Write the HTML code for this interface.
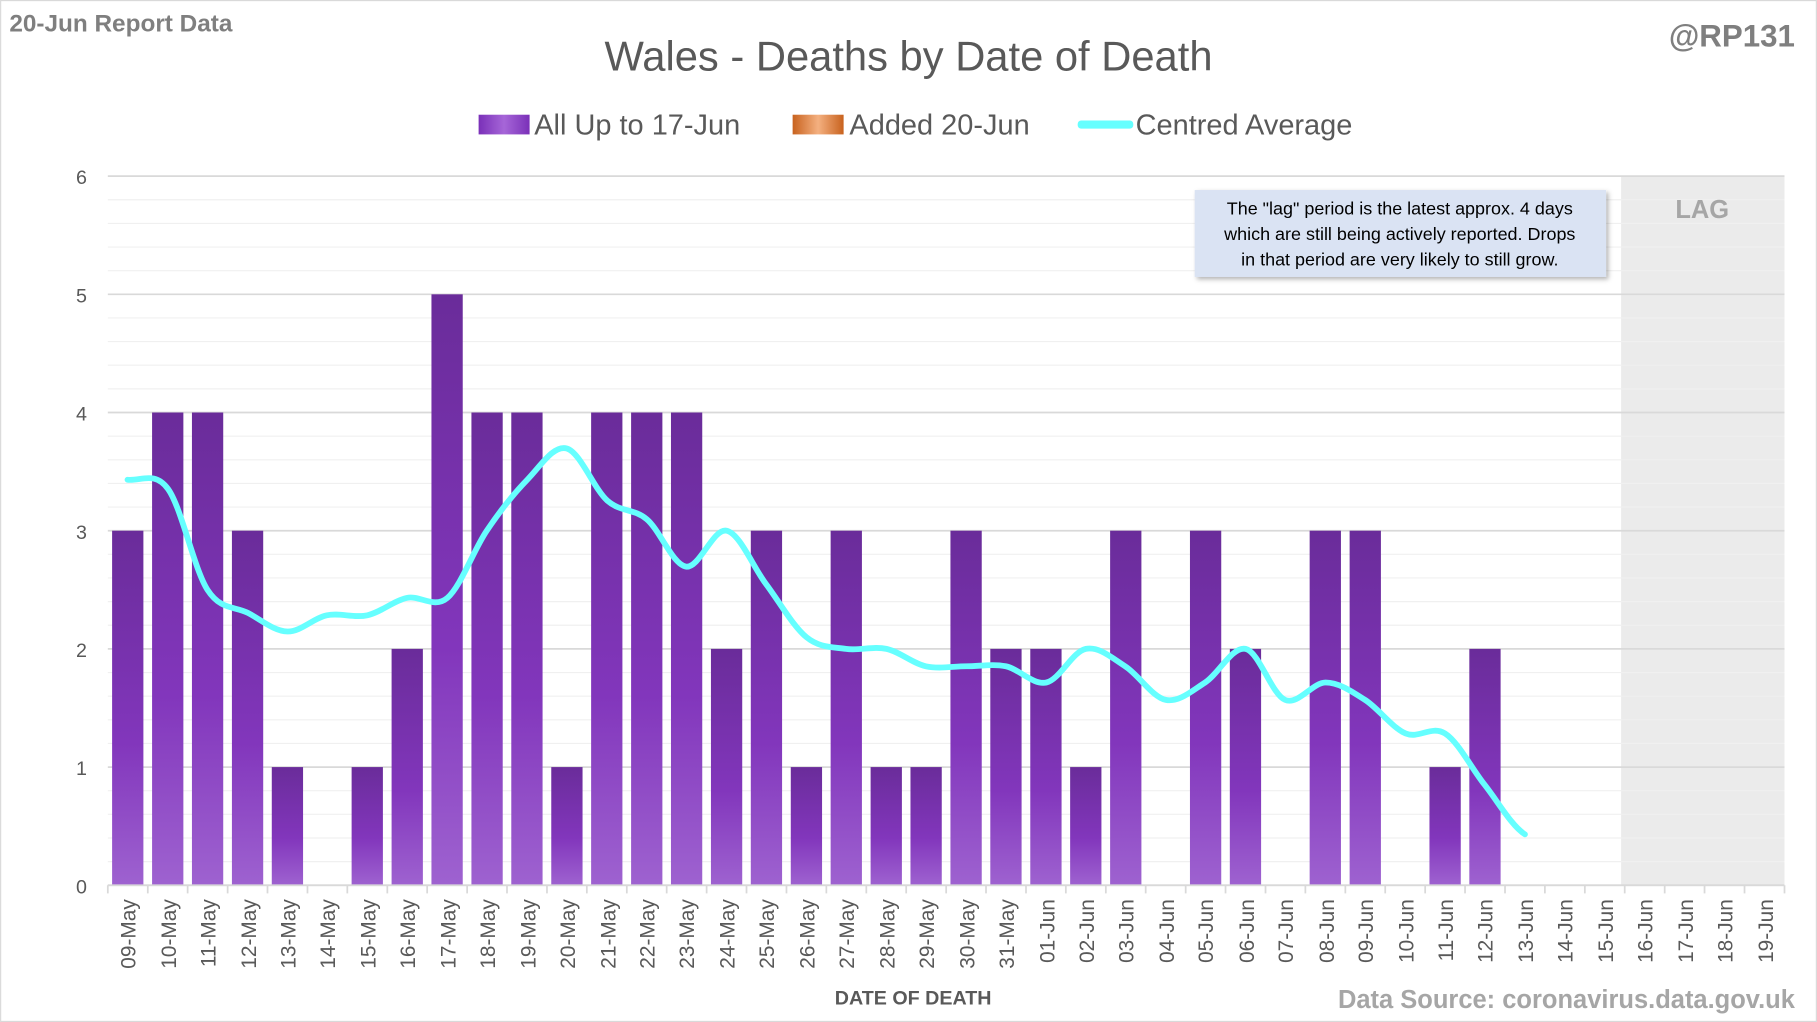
<!DOCTYPE html>
<html><head><style>html,body{margin:0;padding:0;background:#fff}svg{display:block}</style></head>
<body>
<svg width="1817" height="1022" viewBox="0 0 1568 882" xmlns="http://www.w3.org/2000/svg" font-family="'Liberation Sans',sans-serif">
<defs>
<linearGradient id="pg" x1="0" y1="0" x2="0" y2="1"><stop offset="0" stop-color="#6a2c9a"/><stop offset="0.6" stop-color="#8236bc"/><stop offset="1" stop-color="#9e62d0"/></linearGradient>
<linearGradient id="lp" x1="0" y1="0" x2="1" y2="0"><stop offset="0" stop-color="#7a30b8"/><stop offset="0.5" stop-color="#a666d8"/><stop offset="1" stop-color="#7a30b8"/></linearGradient>
<linearGradient id="lo" x1="0" y1="0" x2="1" y2="0"><stop offset="0" stop-color="#c8621e"/><stop offset="0.5" stop-color="#f4b080"/><stop offset="1" stop-color="#c8621e"/></linearGradient>
<filter id="sh"><feDropShadow dx="2" dy="2" stdDeviation="2" flood-color="#000" flood-opacity="0.3"/></filter>
</defs>
<rect x="0.5" y="0.5" width="1567" height="881" fill="#fff" stroke="#d9d9d9"/>
<rect x="1399" y="152" width="141" height="612" fill="#ebebeb"/>
<g stroke="#f0f0f0" stroke-width="1">
<path d="M93 172.4H1540M93 192.8H1540M93 213.2H1540M93 233.6H1540M93 274.4H1540M93 294.8H1540M93 315.2H1540M93 335.6H1540M93 376.4H1540M93 396.8H1540M93 417.2H1540M93 437.6H1540M93 478.4H1540M93 498.8H1540M93 519.2H1540M93 539.6H1540M93 580.4H1540M93 600.8H1540M93 621.2H1540M93 641.6H1540M93 682.4H1540M93 702.8H1540M93 723.2H1540M93 743.6H1540"/>
</g>
<g stroke="#d9d9d9" stroke-width="1.5">
<path d="M93 152H1540M93 254H1540M93 356H1540M93 458H1540M93 560H1540M93 662H1540M93 764H1540"/>
</g>
<g fill="#595959" font-size="17" text-anchor="end">
<text x="75" y="159">6</text><text x="75" y="261">5</text><text x="75" y="363">4</text><text x="75" y="465">3</text><text x="75" y="567">2</text><text x="75" y="669">1</text><text x="75" y="771">0</text>
</g>
<g fill="url(#pg)">
<rect x="96.7" y="458" width="27" height="306"/>
<rect x="131.2" y="356" width="27" height="408"/>
<rect x="165.6" y="356" width="27" height="408"/>
<rect x="200.1" y="458" width="27" height="306"/>
<rect x="234.5" y="662" width="27" height="102"/>
<rect x="303.4" y="662" width="27" height="102"/>
<rect x="337.9" y="560" width="27" height="204"/>
<rect x="372.3" y="254" width="27" height="510"/>
<rect x="406.8" y="356" width="27" height="408"/>
<rect x="441.2" y="356" width="27" height="408"/>
<rect x="475.7" y="662" width="27" height="102"/>
<rect x="510.1" y="356" width="27" height="408"/>
<rect x="544.6" y="356" width="27" height="408"/>
<rect x="579.0" y="356" width="27" height="408"/>
<rect x="613.5" y="560" width="27" height="204"/>
<rect x="647.9" y="458" width="27" height="306"/>
<rect x="682.4" y="662" width="27" height="102"/>
<rect x="716.8" y="458" width="27" height="306"/>
<rect x="751.3" y="662" width="27" height="102"/>
<rect x="785.7" y="662" width="27" height="102"/>
<rect x="820.2" y="458" width="27" height="306"/>
<rect x="854.6" y="560" width="27" height="204"/>
<rect x="889.1" y="560" width="27" height="204"/>
<rect x="923.5" y="662" width="27" height="102"/>
<rect x="958.0" y="458" width="27" height="306"/>
<rect x="1026.9" y="458" width="27" height="306"/>
<rect x="1061.3" y="560" width="27" height="204"/>
<rect x="1130.2" y="458" width="27" height="306"/>
<rect x="1164.7" y="458" width="27" height="306"/>
<rect x="1233.6" y="662" width="27" height="102"/>
<rect x="1268.0" y="560" width="27" height="204"/>
</g>
<path fill="none" stroke="#66ffff" stroke-width="5" stroke-linecap="round" d="M110,414
C121.5,415.3 133.5,406.2 145,422
C156.5,437.8 167.5,491.2 179,509
C190.5,526.8 202.5,523 214,529
C225.5,535 236.5,544.7 248,545
C259.5,545.3 270.5,533.3 282,531
C293.5,528.7 305.5,533.5 317,531
C328.5,528.5 339.5,518.5 351,516
C362.5,513.5 374.5,525.7 386,516
C397.5,506.3 408.5,475 420,458
C431.5,441 443.5,425.8 455,414
C466.5,402.2 477.5,384 489,387
C500.5,390 512.5,421.8 524,432
C535.5,442.2 546.5,438.5 558,448
C569.5,457.5 580.5,487.3 592,489
C603.5,490.7 615.5,455.5 627,458
C638.5,460.5 649.5,488.7 661,504
C672.5,519.3 684.5,540.7 696,550
C707.5,559.3 718.5,558.3 730,560
C741.5,561.7 753.5,557.5 765,560
C776.5,562.5 787.5,572.5 799,575
C810.5,577.5 822.5,575 834,575
C845.5,575 856.5,572.7 868,575
C879.5,577.3 891.5,591.5 903,589
C914.5,586.5 925.5,562.3 937,560
C948.5,557.7 959.5,567.7 971,575
C982.5,582.3 994.5,601.7 1006,604
C1017.5,606.3 1028.5,596.3 1040,589
C1051.5,581.7 1063.5,557.5 1075,560
C1086.5,562.5 1097.5,599.2 1109,604
C1120.5,608.8 1132.5,589 1144,589
C1155.5,589 1166.5,596.7 1178,604
C1189.5,611.3 1201.5,628.2 1213,633
C1224.5,637.8 1235.5,625.7 1247,633
C1258.5,640.3 1269.5,662.5 1281,677
C1292.5,691.5 1304.5,712.8 1316,720"/>
<path d="M93 764H1540" stroke="#d9d9d9" stroke-width="1.5"/>
<path stroke="#d9d9d9" stroke-width="1.5" d="M93 764v7M127.5 764v7M161.9 764v7M196.4 764v7M230.8 764v7M265.3 764v7M299.7 764v7M334.2 764v7M368.6 764v7M403.1 764v7M437.5 764v7M472 764v7M506.4 764v7M540.9 764v7M575.3 764v7M609.8 764v7M644.2 764v7M678.7 764v7M713.1 764v7M747.6 764v7M782 764v7M816.5 764v7M850.9 764v7M885.4 764v7M919.8 764v7M954.3 764v7M988.7 764v7M1023.2 764v7M1057.6 764v7M1092.1 764v7M1126.5 764v7M1161 764v7M1195.4 764v7M1229.9 764v7M1264.3 764v7M1298.8 764v7M1333.2 764v7M1367.7 764v7M1402.1 764v7M1436.6 764v7M1471 764v7M1505.5 764v7M1540 764v7"/>
<g fill="#595959" font-size="18" text-anchor="end">
<text transform="translate(117,776) rotate(-90)">09-May</text>
<text transform="translate(152,776) rotate(-90)">10-May</text>
<text transform="translate(186,776) rotate(-90)">11-May</text>
<text transform="translate(221,776) rotate(-90)">12-May</text>
<text transform="translate(255,776) rotate(-90)">13-May</text>
<text transform="translate(289,776) rotate(-90)">14-May</text>
<text transform="translate(324,776) rotate(-90)">15-May</text>
<text transform="translate(358,776) rotate(-90)">16-May</text>
<text transform="translate(393,776) rotate(-90)">17-May</text>
<text transform="translate(427,776) rotate(-90)">18-May</text>
<text transform="translate(462,776) rotate(-90)">19-May</text>
<text transform="translate(496,776) rotate(-90)">20-May</text>
<text transform="translate(531,776) rotate(-90)">21-May</text>
<text transform="translate(565,776) rotate(-90)">22-May</text>
<text transform="translate(599,776) rotate(-90)">23-May</text>
<text transform="translate(634,776) rotate(-90)">24-May</text>
<text transform="translate(668,776) rotate(-90)">25-May</text>
<text transform="translate(703,776) rotate(-90)">26-May</text>
<text transform="translate(737,776) rotate(-90)">27-May</text>
<text transform="translate(772,776) rotate(-90)">28-May</text>
<text transform="translate(806,776) rotate(-90)">29-May</text>
<text transform="translate(841,776) rotate(-90)">30-May</text>
<text transform="translate(875,776) rotate(-90)">31-May</text>
<text transform="translate(910,776) rotate(-90)">01-Jun</text>
<text transform="translate(944,776) rotate(-90)">02-Jun</text>
<text transform="translate(978,776) rotate(-90)">03-Jun</text>
<text transform="translate(1013,776) rotate(-90)">04-Jun</text>
<text transform="translate(1047,776) rotate(-90)">05-Jun</text>
<text transform="translate(1082,776) rotate(-90)">06-Jun</text>
<text transform="translate(1116,776) rotate(-90)">07-Jun</text>
<text transform="translate(1151,776) rotate(-90)">08-Jun</text>
<text transform="translate(1185,776) rotate(-90)">09-Jun</text>
<text transform="translate(1220,776) rotate(-90)">10-Jun</text>
<text transform="translate(1254,776) rotate(-90)">11-Jun</text>
<text transform="translate(1288,776) rotate(-90)">12-Jun</text>
<text transform="translate(1323,776) rotate(-90)">13-Jun</text>
<text transform="translate(1357,776) rotate(-90)">14-Jun</text>
<text transform="translate(1392,776) rotate(-90)">15-Jun</text>
<text transform="translate(1426,776) rotate(-90)">16-Jun</text>
<text transform="translate(1461,776) rotate(-90)">17-Jun</text>
<text transform="translate(1495,776) rotate(-90)">18-Jun</text>
<text transform="translate(1530,776) rotate(-90)">19-Jun</text>
</g>
<text x="788" y="867" text-anchor="middle" font-size="17" font-weight="bold" fill="#595959">DATE OF DEATH</text>
<text x="1549" y="870" text-anchor="end" font-size="22" font-weight="bold" fill="#a6a6a6">Data Source: coronavirus.data.gov.uk</text>
<text x="8" y="27" font-size="21" font-weight="bold" fill="#7f7f7f">20-Jun Report Data</text>
<text x="1549" y="40" text-anchor="end" font-size="27" font-weight="bold" fill="#7f7f7f">@RP131</text>
<text x="784" y="61" text-anchor="middle" font-size="36" fill="#595959">Wales - Deaths by Date of Death</text>
<rect x="413" y="99" width="44" height="17" fill="url(#lp)"/>
<text x="461" y="116" font-size="25" fill="#595959">All Up to 17-Jun</text>
<rect x="684" y="99" width="44" height="17" fill="url(#lo)"/>
<text x="733" y="116" font-size="25" fill="#595959">Added 20-Jun</text>
<rect x="930" y="104" width="48" height="7" rx="3" fill="#66ffff"/>
<text x="980" y="116" font-size="25" fill="#595959">Centred Average</text>
<text x="1469" y="188" text-anchor="middle" font-size="22" font-weight="bold" fill="#a6a6a6">LAG</text>
<rect x="1031" y="164" width="355" height="75" fill="#dae3f3" filter="url(#sh)"/>
<g font-size="15.5" fill="#000" text-anchor="middle">
<text x="1208" y="185">The "lag" period is the latest approx. 4 days</text>
<text x="1208" y="207">which are still being actively reported.  Drops</text>
<text x="1208" y="229">in that period are very likely to still grow.</text>
</g>
</svg>
</body></html>
